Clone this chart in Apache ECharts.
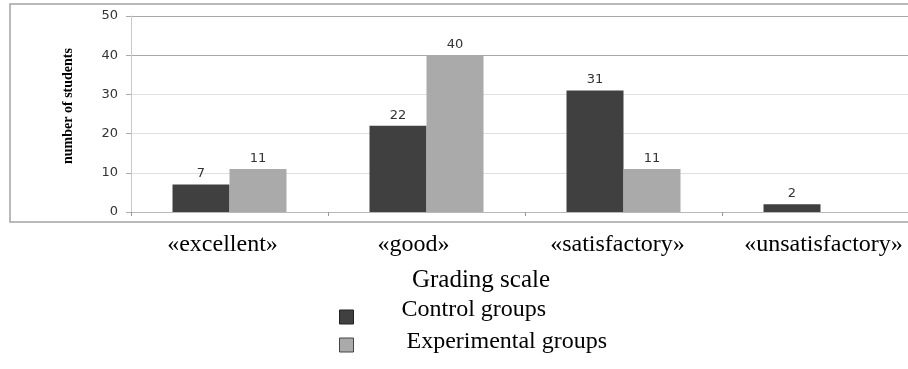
<!DOCTYPE html>
<html>
<head>
<meta charset="utf-8">
<script src="https://cdn.jsdelivr.net/npm/echarts@6/dist/echarts.min.js"></script>
<style>
  html, body { margin: 0; padding: 0; background: #fff; }
  #chart { width: 908px; height: 369px; }
</style>
</head>
<body>
<div id="chart"></div>
<script>
// Grades and counts of students per group
const categories = ['«excellent»', '«good»', '«satisfactory»', '«unsatisfactory»'];
const controlGroups = [7, 22, 31, 2];
const experimentalGroups = [11, 40, 11, 0];
const yTicks = [0, 10, 20, 30, 40, 50];

// Horizontal nudge for each category label (px, negative = left)
const labelShift = [-7, -13, -6, 3];

const serif = "'Liberation Serif', 'Times New Roman', serif";
const sans = "'DejaVu Sans', Verdana, sans-serif";

const rich = {};
categories.forEach((c, i) => {
  const s = labelShift[i];
  rich['c' + i] = {
    fontFamily: serif, fontSize: 24, color: '#000',
    padding: s < 0 ? [0, -2 * s, 0, 0] : [0, 0, 0, 2 * s]
  };
});

function legendBox(name, top, fill, border, pad) {
  return {
    orient: 'vertical',
    left: 334,
    top: top,
    icon: 'rect',
    itemWidth: 14,
    itemHeight: 14,
    selectedMode: false,
    data: [{ name: name, itemStyle: { color: fill, borderColor: border, borderWidth: 1 } }],
    formatter: n => '{t|' + n + '}',
    textStyle: {
      rich: {
        t: { fontFamily: serif, fontSize: 24, color: '#000', lineHeight: 22, padding: pad }
      }
    }
  };
}

const chart = echarts.init(document.getElementById('chart'), null, { renderer: 'canvas' });

chart.setOption({
  animation: false,
  backgroundColor: '#fff',
  grid: { left: 131, top: 16, width: 788, bottom: 157, outerBoundsMode: 'none', containLabel: false },
  graphic: [{
    type: 'rect', z: 0, silent: true,
    shape: { x: 10, y: 4, width: 960, height: 218 },
    style: { fill: null, stroke: '#a4a4a4', lineWidth: 1.5 }
  }],
  xAxis: {
    type: 'category',
    data: categories,
    boundaryGap: true,
    axisLine: { lineStyle: { color: '#b8b8b8', width: 1 } },
    axisTick: { show: true, length: 4, lineStyle: { color: '#999' } },
    axisLabel: {
      margin: 21,
      formatter: (v, i) => '{c' + i + '|' + v + '}',
      rich: rich
    },
    name: 'Grading scale',
    nameLocation: 'middle',
    nameGap: 56,
    nameTextStyle: {
      fontFamily: serif, fontSize: 25, color: '#000',
      padding: [0, 88, 0, 0]
    }
  },
  yAxis: {
    type: 'value',
    min: yTicks[0],
    max: yTicks[yTicks.length - 1],
    interval: yTicks[1] - yTicks[0],
    axisLine: { show: true, lineStyle: { color: '#c8c8c8' } },
    axisTick: { show: true, length: 5, lineStyle: { color: '#aaa' } },
    axisLabel: { margin: 13, fontFamily: sans, fontSize: 13, color: '#333' },
    splitLine: {
      show: true,
      lineStyle: { color: ['#c8c8c8', '#e0e0e0', '#e0e0e0', '#e0e0e0', '#a8a8a8', '#a8a8a8'], width: 1 }
    },
    name: 'number of students',
    nameLocation: 'middle',
    nameGap: 56,
    nameTextStyle: {
      fontFamily: serif, fontSize: 14, fontWeight: 'bold', color: '#000',
      padding: [0, 0, 0, 16]
    }
  },
  legend: [
    legendBox('Control groups', 293, '#404040', '#222', [0, 0, 14, 43]),
    legendBox('Experimental groups', 325, '#aaaaaa', '#444', [0, 0, 6, 48])
  ],
  series: [
    {
      name: 'Control groups',
      type: 'bar',
      data: controlGroups,
      barWidth: 57,
      barGap: '0%',
      itemStyle: { color: '#404040' },
      label: {
        show: true, position: 'top', distance: 4,
        fontFamily: sans, fontSize: 13, color: '#333',
        formatter: p => (p.value ? p.value : '')
      }
    },
    {
      name: 'Experimental groups',
      type: 'bar',
      data: experimentalGroups,
      barWidth: 57,
      barGap: '0%',
      itemStyle: { color: '#aaaaaa' },
      label: {
        show: true, position: 'top', distance: 4,
        fontFamily: sans, fontSize: 13, color: '#333',
        formatter: p => (p.value ? p.value : '')
      }
    }
  ]
});
</script>
</body>
</html>
